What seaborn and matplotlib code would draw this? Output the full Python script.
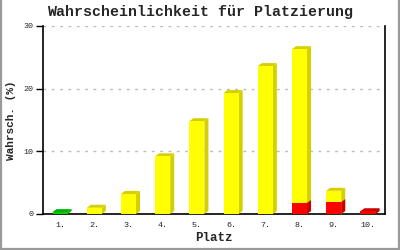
import matplotlib
matplotlib.use("Agg")
import matplotlib.pyplot as plt
import seaborn as sns
from matplotlib.patches import Polygon
from matplotlib.lines import Line2D

labels = ["1.", "2.", "3.", "4.", "5.", "6.", "7.", "8.", "9.", "10."]
total = [0.3, 1.0, 3.2, 9.2, 14.8, 19.3, 23.6, 26.3, 3.7, 0.4]
red = [0.0, 0.0, 0.0, 0.0, 0.0, 0.0, 0.0, 1.75, 1.9, 0.4]
top_colors = ["#00CC00", "#FFFF00", "#FFFF00", "#FFFF00", "#FFFF00",
              "#FFFF00", "#FFFF00", "#FFFF00", "#FFFF00", "#FF0000"]

dark = {"#00CC00": "#00B000", "#FFFF00": "#D4D000", "#FF0000": "#CC0000"}

sns.set_style("white")
fig = plt.figure(figsize=(4, 2.5), dpi=100)
ax = fig.add_axes([0.1075, 0.144, 0.855, 0.752])

sns.barplot(x=labels, y=total, hue=labels, palette=top_colors, legend=False,
            width=0.44, ax=ax, saturation=1, linewidth=0, zorder=3)
n_total = len(ax.patches)
sns.barplot(x=labels, y=red, color="#FF0000", width=0.44, ax=ax,
            saturation=1, linewidth=0, zorder=4)

ax.set_xlim(-0.5, 9.5)
ax.set_ylim(0, 30)
fig.canvas.draw()

inv = ax.transData.inverted()
p0 = inv.transform(ax.transData.transform((0, 0)))
px = inv.transform(ax.transData.transform((0, 0)) + [4, 3])
ddx, ddy = px[0] - p0[0], px[1] - p0[1]

def add_3d(patch, color, zo, with_top=True):
    x = patch.get_x(); w = patch.get_width()
    y0 = patch.get_y(); h = patch.get_height()
    if h <= 0:
        return
    y1 = y0 + h
    side = Polygon([(x + w, y0), (x + w + ddx, y0 + ddy), (x + w + ddx, y1 + ddy), (x + w, y1)],
                   closed=True, facecolor=color, edgecolor="none", zorder=zo)
    ax.add_patch(side)
    if with_top:
        top = Polygon([(x, y1), (x + ddx, y1 + ddy), (x + w + ddx, y1 + ddy), (x + w, y1)],
                      closed=True, facecolor=color, edgecolor="none", zorder=zo)
        ax.add_patch(top)

patches = ax.patches[:]
for i, p in enumerate(patches[:n_total]):
    add_3d(p, dark[top_colors[i]], 2.9)
for i, p in enumerate(patches[n_total:]):
    if p.get_height() > 0:
        add_3d(p, "#CC0000", 3.9, with_top=(red[i] >= total[i]))

ax.set_yticks([0, 10, 20, 30])
ax.yaxis.grid(True, linestyle=(0, (2, 4)), color="#BBBBBB", linewidth=1, zorder=0)
ax.set_axisbelow(True)
for s in ["left", "bottom", "right"]:
    ax.spines[s].set_visible(True)
    ax.spines[s].set_color("black")
    ax.spines[s].set_linewidth(1.2)
ax.spines["top"].set_visible(False)

mono = "Liberation Mono"
ax.tick_params(axis="y", length=5, width=1, color="black", direction="out",
               labelsize=6, pad=2, left=True)
ax.tick_params(axis="x", length=0, labelsize=6, pad=6)
for lab in ax.get_xticklabels() + ax.get_yticklabels():
    lab.set_family(mono)

ax.set_xlabel("Platz", family=mono, fontweight="bold", fontsize=9)
ax.xaxis.set_label_coords(0.5, -0.095)
ax.set_ylabel("Wahrsch. (%)", family=mono, fontweight="bold", fontsize=8)
ax.yaxis.label.set_va("center")
ax.yaxis.set_label_coords(-0.095, 0.5)
fig.text(0.5, 0.952, "Wahrscheinlichkeit für Platzierung", family=mono,
         fontsize=10.8, fontweight="bold", ha="center", va="center")

gc = "#999999"
fig.add_artist(Line2D([0.0025, 0.0025], [0, 1], transform=fig.transFigure, color=gc, lw=1.6))
fig.add_artist(Line2D([0.9975, 0.9975], [0, 1], transform=fig.transFigure, color=gc, lw=1.6))
fig.add_artist(Line2D([0, 1], [0.004, 0.004], transform=fig.transFigure, color=gc, lw=1.6))

fig.savefig("out.png", dpi=100)
